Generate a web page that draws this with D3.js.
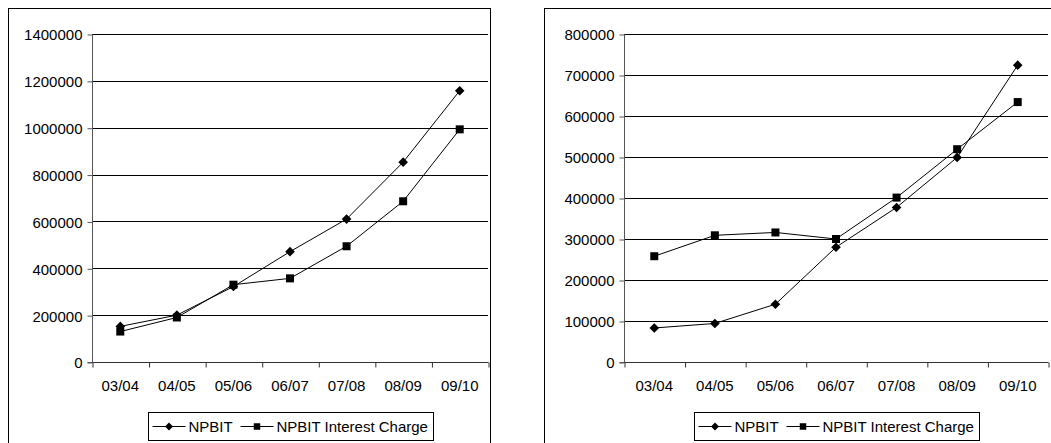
<!DOCTYPE html>
<html>
<head>
<meta charset="utf-8">
<script src="https://cdn.jsdelivr.net/npm/d3@7/dist/d3.min.js"></script>
<style>
  html, body { margin: 0; padding: 0; background: #fff; }
  svg { display: block; }
  text { font-family: "Liberation Sans", Arial, sans-serif; font-size: 15px; fill: #000; }
</style>
</head>
<body>
<svg id="chart" width="1051" height="443"></svg>
<script>
// ---- Data ----
const categories = ["03/04", "04/05", "05/06", "06/07", "07/08", "08/09", "09/10"];
const seriesNames = ["NPBIT", "NPBIT Interest Charge"];

const leftNPBIT = [152000, 200000, 322000, 471000, 610000, 853000, 1158000];
const leftInterest = [130000, 190000, 330000, 357000, 494000, 686000, 993000];
const leftTicks = [0, 200000, 400000, 600000, 800000, 1000000, 1200000, 1400000];

const rightNPBIT = [83000, 94000, 141000, 280000, 377000, 499000, 724000];
const rightInterest = [258000, 309000, 316000, 300000, 401000, 519000, 634000];
const rightTicks = [0, 100000, 200000, 300000, 400000, 500000, 600000, 700000, 800000];

// ---- Layout ----
const svg = d3.select("#chart");

const charts = [
  { box: [8.5, 8.5, 490.5, 470], plot: [92, 488, 34, 362], ticks: leftTicks,
    a: leftNPBIT, b: leftInterest },
  { box: [544.5, 8.5, 1080, 470], plot: [624, 1048, 34, 362], ticks: rightTicks,
    a: rightNPBIT, b: rightInterest }
];

function diamond(g, x, y, r) {
  g.append("path")
    .attr("d", `M${x},${y - r}L${x + r},${y}L${x},${y + r}L${x - r},${y}Z`)
    .attr("fill", "#000");
}
function square(g, x, y, s) {
  g.append("rect")
    .attr("x", x - s / 2).attr("y", y - s / 2)
    .attr("width", s).attr("height", s)
    .attr("fill", "#000");
}

charts.forEach(c => {
  const [bx0, by0, bx1, by1] = c.box;
  const [px0, px1, py0, py1] = c.plot;
  const g = svg.append("g");

  g.append("rect")
    .attr("x", bx0).attr("y", by0)
    .attr("width", bx1 - bx0).attr("height", by1 - by0)
    .attr("fill", "#fff").attr("stroke", "#000").attr("stroke-width", 1);

  const yMax = c.ticks[c.ticks.length - 1];
  const y = d3.scaleLinear().domain([0, yMax]).range([py1, py0]);
  const x = d3.scaleBand().domain(categories).range([px0, px1]);
  const xEdges = d3.scaleLinear().domain([0, categories.length]).range([px0, px1]);

  // gridlines
  g.append("g").selectAll("line")
    .data(c.ticks.filter(t => t > 0))
    .join("line")
    .attr("x1", px0).attr("x2", px1)
    .attr("y1", d => Math.round(y(d)) + 0.5).attr("y2", d => Math.round(y(d)) + 0.5)
    .attr("stroke", "#000").attr("stroke-width", 1);

  // y axis
  const yAxis = g.append("g")
    .attr("transform", `translate(${px0 + 0.5},0.5)`)
    .call(d3.axisLeft(y).tickValues(c.ticks).tickSize(5).tickPadding(5).tickFormat(d3.format("d")));
  yAxis.select(".domain").attr("stroke", "#555").attr("d", `M-5,${py1}H0V${py0}`);
  yAxis.selectAll(".tick line").attr("stroke", "#555");
  yAxis.selectAll("text").style("font-size", "15px").attr("dy", "0.36em").attr("fill", "#000");

  // x axis tick marks at category edges
  const xTickAxis = g.append("g")
    .attr("transform", `translate(0.5,${Math.round(py1) + 0.5})`)
    .call(d3.axisBottom(xEdges).tickValues(d3.range(categories.length + 1)).tickSize(5).tickFormat(""));
  xTickAxis.select(".domain").attr("stroke", "#333").attr("d", `M${px0},0H${px1}`);
  xTickAxis.selectAll(".tick line").attr("stroke", "#333");

  // x labels
  const xLab = g.append("g")
    .attr("transform", `translate(0,${py1})`)
    .call(d3.axisBottom(x).tickSize(0).tickPadding(18));
  xLab.select(".domain").remove();
  xLab.selectAll("text").style("font-size", "15px").attr("fill", "#000");

  // series
  const line = d3.line().x((d, i) => x(categories[i]) + x.bandwidth() / 2).y(d => y(d));
  [c.a, c.b].forEach((vals, si) => {
    g.append("path").datum(vals)
      .attr("d", line).attr("fill", "none").attr("stroke", "#000").attr("stroke-width", 1);
    vals.forEach((v, i) => {
      const cx = x(categories[i]) + x.bandwidth() / 2, cy = y(v);
      if (si === 0) diamond(g, cx, cy, 4.8); else square(g, cx, cy, 8);
    });
  });

  // legend
  const lw = 285, lh = 28;
  const lcx = (px0 + px1) / 2;
  const lx = Math.round(lcx - lw / 2) + 0.5, ly = 412.5;
  const lg = g.append("g").attr("transform", `translate(${lx},${ly})`);
  lg.append("rect").attr("width", lw).attr("height", lh).attr("fill", "#fff").attr("stroke", "#000");
  const my = lh / 2;
  // entry 1
  lg.append("line").attr("x1", 4).attr("x2", 37).attr("y1", my).attr("y2", my).attr("stroke", "#000");
  diamond(lg, 20.5, my, 4);
  lg.append("text").attr("x", 40).attr("y", my).attr("dy", "0.36em").text(seriesNames[0]);
  // entry 2
  lg.append("line").attr("x1", 92).attr("x2", 125).attr("y1", my).attr("y2", my).attr("stroke", "#000");
  square(lg, 108.5, my, 6.5);
  lg.append("text").attr("x", 128).attr("y", my).attr("dy", "0.36em").text(seriesNames[1]);
});
</script>
</body>
</html>
